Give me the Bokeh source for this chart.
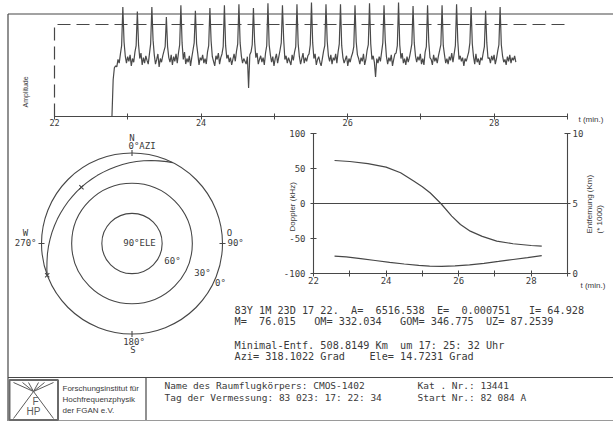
import numpy as np
from bokeh.plotting import figure
from bokeh.models import Range1d, LinearAxis, FixedTicker
from bokeh.embed import file_html
from bokeh.resources import INLINE
from bokeh.core.properties import value

# ---------------- data ----------------
amp_t_start = 22.784         # min, start of the received signal
amp_t_step = 0.0165          # min, sampling step of the trace
amp_values = [
    0, 40, 53, 55, 54, 62, 58, 68, 77,
    119, 81, 66, 58, 65, 60, 67, 55, 63, 59, 70, 77,
    114, 78, 63, 69, 56, 64, 58, 66, 61, 57, 68, 79,
    119, 83, 67, 57, 62, 68, 54, 63, 59, 66, 71, 76,
    108, 76, 64, 59, 67, 56, 65, 60, 68, 58, 69, 78,
    121, 80, 62, 70, 57, 63, 59, 66, 55, 64, 72, 80,
    115, 79, 68, 56, 64, 61, 67, 58, 63, 57, 70, 77,
    118, 82, 65, 60, 55, 66, 62, 69, 57, 64, 68, 76,
    121, 77, 63, 67, 59, 64, 56, 62, 68, 60, 71, 79,
    122, 80, 66, 58, 63, 60, 57, 65, 31, 67, 70, 78,
    118, 81, 64, 69, 57, 62, 66, 59, 64, 56, 69, 77,
    123, 78, 67, 59, 65, 55, 63, 68, 58, 65, 72, 80,
    121, 84, 62, 66, 58, 64, 60, 56, 67, 61, 70, 76,
    122, 79, 65, 57, 63, 69, 58, 64, 60, 66, 68, 78,
    124, 80, 63, 68, 56, 62, 65, 59, 55, 63, 71, 77,
    122, 82, 66, 60, 67, 57, 64, 61, 68, 58, 70, 79,
    122, 77, 64, 58, 62, 66, 55, 63, 59, 65, 69, 76,
    121, 81, 67, 63, 57, 64, 60, 68, 56, 62, 72, 78,
    123, 79, 62, 66, 59, 43, 63, 58, 65, 60, 70, 80,
    121, 83, 65, 57, 64, 60, 67, 55, 62, 68, 69, 77,
    124, 78, 63, 69, 58, 63, 56, 65, 59, 64, 71, 79,
    120, 80, 66, 59, 65, 61, 68, 57, 63, 56, 70, 76,
    121, 81, 64, 62, 56, 67, 60, 64, 58, 66, 72, 78,
    121, 77, 67, 58, 63, 57, 65, 61, 69, 59, 68, 77,
    122, 82, 62, 66, 60, 64, 55, 63, 60, 65, 70, 80,
    119, 79, 65, 57, 68, 59, 63, 56, 64, 61, 69, 76,
    115, 80, 63, 64, 58, 66, 61, 67, 57, 63, 71, 78,
    119, 78, 66, 59, 62, 56, 65, 60, 67, 58, 64, 61,
    66, 59]
amp_limit = 100
t_min, t_max = 22, 29

dop_t = [22.58, 23.0, 23.5, 24.0, 24.4, 24.76, 25.0, 25.22, 25.51,
         25.81, 26.05, 26.32, 26.65, 27.05, 27.5, 28.0, 28.29]
dop_khz = [61.4, 60.0, 57.0, 52.0, 44.0, 32.0, 24.0, 15.0, 0.0,
           -18.0, -30.0, -39.5, -47.0, -53.8, -57.5, -60.0, -61.0]
rng_t = [22.58, 22.9, 23.3, 23.7, 24.1, 24.5, 24.9, 25.2, 25.53,
         25.9, 26.3, 26.7, 27.1, 27.5, 27.9, 28.29]
rng_km1000 = [1.24, 1.19, 1.06, 0.93, 0.80, 0.68, 0.58, 0.53, 0.509,
              0.54, 0.62, 0.73, 0.86, 1.00, 1.14, 1.28]

track_az = [26.7, 23.1, 18.1, 13.1, 8.1, 3.1, 358.1, 353.1, 348.1, 343.1,
            338.1, 333.1, 328.1, 323.1, 318.1, 313.1, 308.1, 303.1, 298.1,
            293.1, 288.1, 283.1, 278.1, 273.1, 268.1, 263.1, 258.1, 253.1, 249.5]
track_el = [0.0, 1.5, 3.6, 5.3, 6.9, 8.4, 9.7, 10.9, 11.9, 12.8,
            13.5, 14.0, 14.4, 14.63, 14.72, 14.63, 14.4, 14.0, 13.5,
            12.8, 11.9, 10.9, 9.7, 8.4, 6.9, 5.3, 3.6, 1.5, 0.0]
mark_az = [318.1022, 249.5]
mark_el = [14.7231, 0.0]
ele_rings = [0, 30, 60]
cardinal_az = [0, 90, 180, 270]

time_major = [22, 24, 26, 28]
time_minor = [23, 25, 27, 29]
dop_ticks = [-100, -50, 0, 50, 100]
dop_tick_labels = ["-100", "-50", "0", "50", "100"]
ent_ticks = [0, 5, 10]
ent_tick_labels = ["0", "5", "10"]

param_lines = [
    "83Y 1M 23D 17 22.  A=  6516.538  E=  0.000751   I= 64.928",
    "M=  76.015   OM= 332.034   GOM= 346.775  UZ= 87.2539",
    "Minimal-Entf. 508.8149 Km  um 17: 25: 32 Uhr",
    "Azi= 318.1022 Grad    Ele= 14.7231 Grad",
]
inst_lines = ["Forschungsinstitut für", "Hochfrequenzphysik", "der FGAN e.V."]
info_left = ["Name des Raumflugkörpers: CMOS-1402",
             "Tag der Vermessung: 83 023: 17: 22: 34"]
info_right = ["Kat . Nr.: 13441", "Start Nr.: 82 084 A"]

# ---------------- style ----------------
INK = "#3a3a3a"
LINE = "#474747"
TRACE = "#4a4a4a"
SANS = "Liberation Sans"
MONO = "DejaVu Sans Mono"
W, H = 613, 421


def rng_from(va, pa, vb, pb, p0, p1):
    """Range whose values va/vb fall on page pixels pa/pb; canvas spans p0..p1."""
    s = (vb - va) / (pb - pa)
    return Range1d(va + (p0 - pa) * s, va + (p1 - pa) * s)


K = 90.5 / 90.0  # px per degree of zenith distance in the polar plot
extra_x = {
    "amp_t": rng_from(22, 54, 29, 567, 0, W),
    "dop_t": rng_from(22, 313, 29, 567, 0, W),
    "pol_x": rng_from(0, 131.5, 90, 131.5 + 90 * K, 0, W),
}
extra_y = {
    "amp": rng_from(0, 116, 100, 24, H, 0),
    "dop": rng_from(-100, 273, 100, 133, H, 0),
    "ent": rng_from(0, 273, 10, 133, H, 0),
    "pol_y": rng_from(0, 243, 90, 243 - 90 * K, H, 0),
}

p = figure(width=W, height=H, x_range=Range1d(0, W), y_range=Range1d(H, 0),
           extra_x_ranges=extra_x, extra_y_ranges=extra_y, title=None,
           output_backend="svg", toolbar_location=None,
           x_axis_location=None, y_axis_location=None, min_border=0)
p.outline_line_color = None
p.background_fill_color = "white"
p.border_fill_color = "white"
p.xgrid.visible = False
p.ygrid.visible = False


def style_axis(ax, size):
    ax.axis_line_color = LINE
    ax.axis_line_width = 1.1
    ax.major_tick_line_color = LINE
    ax.minor_tick_line_color = LINE
    ax.major_tick_in = 3
    ax.major_tick_out = 3
    ax.minor_tick_in = 3
    ax.minor_tick_out = 3
    ax.major_label_text_font = MONO
    ax.major_label_text_font_size = size
    ax.major_label_text_color = INK


def txt(xs, ys, texts, font, size, align="left", angle=0.0, color=INK):
    texts = [s.replace(" ", "\u00a0") for s in texts]
    p.text(x=xs, y=ys, text=texts, text_font=value(font), text_font_size=value(size),
           text_color=color, text_align=align, text_baseline="middle", angle=angle)


def seg(x0, y0, x1, y1, color=LINE, width=1.2):
    p.segment(x0=x0, y0=y0, x1=x1, y1=y1, line_color=color, line_width=width)


# ---------------- frame of the sheet ----------------
seg([7.5, 7.5, 7.5], [13.5, 13.5, 377], [7.5, W, W], [H, 13.5, 377])

# ---------------- amplitude ----------------
ax = LinearAxis(x_range_name="amp_t", y_range_name="amp", fixed_location=0,
                bounds=(t_min, t_max),
                ticker=FixedTicker(ticks=time_major, minor_ticks=time_minor))
style_axis(ax, "8.5px")
ax.major_label_standoff = -1
p.add_layout(ax, "below")

amp_t = amp_t_start + amp_t_step * np.arange(len(amp_values))
p.line([t_min, t_min, t_max], [0, amp_limit, amp_limit], x_range_name="amp_t",
       y_range_name="amp", line_color=LINE, line_width=1.2, line_dash="13 6")
p.line(amp_t, amp_values, x_range_name="amp_t", y_range_name="amp",
       line_color=TRACE, line_width=1.2)
txt([24.5], [107], ["Amplitude"], SANS, "7px", angle=np.pi / 2)
txt([578], [118.5], ["t (min.)"], SANS, "8px")

# ---------------- polar (az / el) ----------------
rr = [90 - e for e in ele_rings]
p.circle(x=[0] * len(rr), y=[0] * len(rr), radius=rr, x_range_name="pol_x",
         y_range_name="pol_y", fill_color=None, line_color=LINE, line_width=1.1)
a = np.radians(track_az)
r = 90 - np.array(track_el)
p.line(r * np.sin(a), r * np.cos(a), x_range_name="pol_x", y_range_name="pol_y",
       line_color=LINE, line_width=1.1)
am = np.radians(mark_az)
rm = 90 - np.array(mark_el)
p.scatter(rm * np.sin(am), rm * np.cos(am), marker="x", size=6, x_range_name="pol_x",
          y_range_name="pol_y", line_color=LINE, line_width=1.1)
ac = np.radians(cardinal_az)
p.segment(x0=87 * np.sin(ac), y0=87 * np.cos(ac), x1=93 * np.sin(ac), y1=93 * np.cos(ac),
          x_range_name="pol_x", y_range_name="pol_y", line_color=LINE, line_width=1.1)

pol_labels = [
    ("N", 131.5, 137, "center"), ("0°AZI", 128, 145.5, "left"),
    ("W", 25, 232, "center"), ("270°", 36, 242.5, "right"),
    ("O", 229, 232, "center"), ("90°", 227, 242.5, "left"),
    ("90°ELE", 139, 242, "center"), ("60°", 172, 260, "center"),
    ("30°", 202, 272, "center"), ("0°", 220, 282, "center"),
    ("180°", 133.5, 341.5, "center"), ("S", 132.5, 349.5, "center"),
]
for t, px, py, al in pol_labels:
    txt([px], [py], [t], MONO, "9px", align=al)

# ---------------- doppler / range ----------------
axl = LinearAxis(x_range_name="dop_t", y_range_name="dop", fixed_location=t_min,
                 bounds=(-100, 100), ticker=FixedTicker(ticks=dop_ticks),
                 major_label_overrides=dict(zip(dop_ticks, dop_tick_labels)))
style_axis(axl, "9px")
p.add_layout(axl, "left")
axr = LinearAxis(x_range_name="dop_t", y_range_name="ent", fixed_location=t_max,
                 bounds=(0, 10), ticker=FixedTicker(ticks=ent_ticks),
                 major_label_overrides=dict(zip(ent_ticks, ent_tick_labels)))
style_axis(axr, "9px")
axr.major_label_standoff = 2
p.add_layout(axr, "right")
axb = LinearAxis(x_range_name="dop_t", y_range_name="dop", fixed_location=-100,
                 bounds=(t_min, t_max),
                 ticker=FixedTicker(ticks=time_major, minor_ticks=time_minor))
style_axis(axb, "9px")
axb.major_label_standoff = 0
p.add_layout(axb, "below")

p.line([t_min, t_max], [0, 0], x_range_name="dop_t", y_range_name="dop",
       line_color=LINE, line_width=1.1)
p.line(dop_t, dop_khz, x_range_name="dop_t", y_range_name="dop",
       line_color=LINE, line_width=1.2)
p.line(rng_t, rng_km1000, x_range_name="dop_t", y_range_name="ent",
       line_color=LINE, line_width=1.2)
txt([291.5], [231], ["Doppler (kHz)"], SANS, "8px", angle=np.pi / 2)
txt([589], [233], ["Entfernung (Km)"], SANS, "8px", angle=np.pi / 2)
txt([598.5], [233], ["(* 1000)"], SANS, "8px", angle=np.pi / 2)
txt([580], [285], ["t (min.)"], SANS, "8px")

# ---------------- parameter text ----------------
txt([234] * len(param_lines), [309.5, 321, 344.5, 356], param_lines, MONO, "10.2px")

# ---------------- bottom info box ----------------
seg([145.5], [377], [145.5], [H])
seg([7.5], [420], [W], [420], color="#9a9a9a", width=1)
p.quad(left=[9], right=[57.5], top=[379.5], bottom=[419.5], fill_color=None,
       line_color="#6a6a6a", line_width=2)
seg([13, 53, 33, 33, 33, 33], [382, 382, 391, 391, 391, 391],
    [33, 33, 22, 28, 38, 44], [391, 391, 382, 382, 382, 382], color="#5a5a5a", width=1)
seg([33, 33], [391, 391], [13, 53], [418, 418], color="#5a5a5a", width=1)
txt([35], [401], ["F"], SANS, "10px", align="center", color="#5a5a5a")
txt([33], [411], ["HP"], SANS, "10px", align="center", color="#5a5a5a")
txt([62] * 3, [388, 399, 410], inst_lines, SANS, "8px")
txt([164] * 2, [385, 397], info_left, MONO, "9.5px")
txt([417] * 2, [385, 397], info_right, MONO, "9.5px")

open("out.html", "w").write(file_html(p, INLINE))
